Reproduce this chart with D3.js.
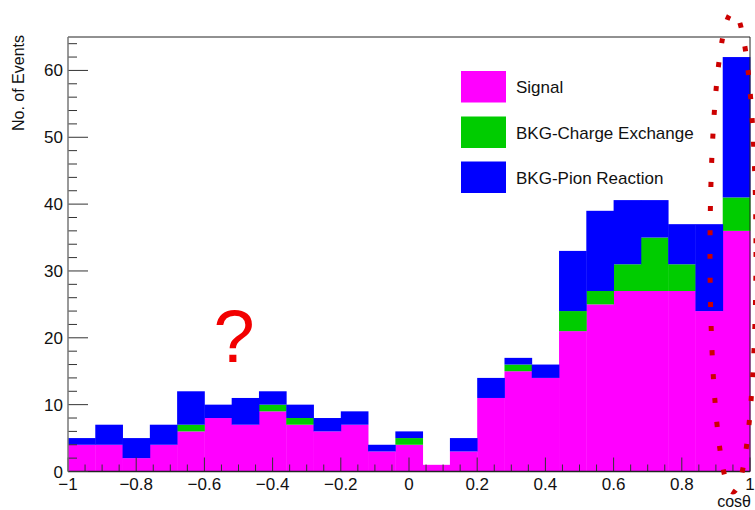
<!DOCTYPE html>
<html>
<head>
<meta charset="utf-8">
<script src="https://cdn.jsdelivr.net/npm/d3@7"></script>
<style>
  html, body { margin: 0; padding: 0; background: #fff; }
  svg { display: block; }
  text { font-family: "Liberation Sans", Arial, Helvetica, sans-serif; }
</style>
</head>
<body>
<svg id="chart" width="755" height="510"></svg>
<script>
// Histogram bins in cos(theta): 25 bins of width 0.08 between -1 and 1
const binEdges = [-1.00, -0.92, -0.84, -0.76, -0.68, -0.60, -0.52, -0.44, -0.36, -0.28,
                  -0.20, -0.12, -0.04, 0.04, 0.12, 0.20, 0.28, 0.36, 0.44, 0.52,
                  0.60, 0.68, 0.76, 0.84, 0.92, 1.00];

// Event counts per bin for each stacked component (bottom to top)
const signal   = [4, 4, 2, 4, 6, 8, 7, 9, 7, 6, 7, 3, 4, 1, 3, 11, 15, 14, 21, 25, 27, 27, 27, 24, 36];
const chargeEx = [0, 0, 0, 0, 1, 0, 0, 1, 1, 0, 0, 0, 1, 0, 0, 0, 1, 0, 3, 2, 4, 8, 4, 0, 5];
const pionReac = [1, 3, 3, 3, 5, 2, 4, 2, 2, 2, 2, 1, 1, 0, 2, 3, 1, 2, 9, 12, 9.6, 5.6, 6, 13, 21];

const seriesNames  = ["Signal", "BKG-Charge Exchange", "BKG-Pion Reaction"];
const seriesColors = ["#ff00ff", "#00cc00", "#0000ff"];

const xTickValues = [-1, -0.8, -0.6, -0.4, -0.2, 0, 0.2, 0.4, 0.6, 0.8, 1];
const yTickValues = [0, 10, 20, 30, 40, 50, 60];

const svg = d3.select("#chart");
const W = 755, H = 510;
const frame = { left: 68, right: 750, top: 37, bottom: 471.5 };

const x = d3.scaleLinear().domain([-1, 1]).range([frame.left, frame.right]);
const y = d3.scaleLinear().domain([0, 65]).range([frame.bottom, frame.top]);

// Build rows for d3.stack
const keys = ["signal", "chargeEx", "pionReac"];
const rows = signal.map((s, i) => ({
  lo: binEdges[i], hi: binEdges[i + 1],
  signal: s, chargeEx: chargeEx[i], pionReac: pionReac[i]
}));
const stacked = d3.stack().keys(keys)(rows);

// Stacked bars
const layers = svg.append("g").attr("class", "layers");
stacked.forEach((layer, k) => {
  layers.append("g")
    .attr("fill", seriesColors[k])
    .selectAll("rect")
    .data(layer.filter(d => d[1] > d[0]))
    .join("rect")
    .attr("x", d => x(d.data.lo))
    .attr("width", d => x(d.data.hi) - x(d.data.lo) + 0.4)
    .attr("y", d => y(d[1]))
    .attr("height", d => y(d[0]) - y(d[1]));
});

// Frame (top and right edges)
svg.append("path")
  .attr("d", `M${frame.left},${frame.top}H${frame.right}V${frame.bottom}`)
  .attr("fill", "none").attr("stroke", "#222").attr("stroke-width", 1);

// X axis: ticks pointing inward (up)
const xAxisG = svg.append("g");
const xMinor = d3.range(-1, 1.0001, 0.05);
xAxisG.selectAll("line.minor").data(xMinor).join("line")
  .attr("x1", d => x(d)).attr("x2", d => x(d))
  .attr("y1", frame.bottom).attr("y2", d => {
    const isMajor = Math.abs(Math.round(d * 5) - d * 5) < 1e-6;
    return frame.bottom - (isMajor ? 14 : 7);
  })
  .attr("stroke", "#333").attr("stroke-width", 1);
xAxisG.append("line")
  .attr("x1", frame.left).attr("x2", frame.right)
  .attr("y1", frame.bottom).attr("y2", frame.bottom)
  .attr("stroke", "#222").attr("stroke-width", 1.5);
const fmt = v => (v < 0 ? "\u2212" : "") + String(Math.abs(v));
xAxisG.selectAll("text").data(xTickValues).join("text")
  .attr("x", d => x(d)).attr("y", 490)
  .attr("text-anchor", "middle")
  .attr("font-size", 17).attr("fill", "#111")
  .text(fmt);

// Y axis: ticks pointing inward (right)
const yAxisG = svg.append("g");
const yMinor = d3.range(0, 65, 2);
yAxisG.selectAll("line.tick").data(yMinor).join("line")
  .attr("y1", d => y(d)).attr("y2", d => y(d))
  .attr("x1", frame.left).attr("x2", d => frame.left + (d % 10 === 0 ? 20 : 9))
  .attr("stroke", "#333").attr("stroke-width", 1);
yAxisG.append("line")
  .attr("x1", frame.left).attr("x2", frame.left)
  .attr("y1", frame.top).attr("y2", frame.bottom)
  .attr("stroke", "#777").attr("stroke-width", 1.5);
yAxisG.selectAll("text").data(yTickValues).join("text")
  .attr("x", 63).attr("y", d => y(d) + 6)
  .attr("text-anchor", "end")
  .attr("font-size", 17).attr("fill", "#111")
  .text(d => d);

// Axis titles
svg.append("text")
  .attr("transform", "translate(24,35) rotate(-90)")
  .attr("text-anchor", "end")
  .attr("font-size", 16).attr("fill", "#111")
  .text("No. of Events");
svg.append("text")
  .attr("x", 751).attr("y", 507)
  .attr("text-anchor", "end")
  .attr("font-size", 16).attr("fill", "#111")
  .text("cosθ");

// Legend
const legend = svg.append("g");
const legendRows = [
  { name: seriesNames[0], color: seriesColors[0], top: 71 },
  { name: seriesNames[1], color: seriesColors[1], top: 116.5 },
  { name: seriesNames[2], color: seriesColors[2], top: 161.5 }
];
legend.selectAll("rect").data(legendRows).join("rect")
  .attr("x", 461).attr("y", d => d.top)
  .attr("width", 45).attr("height", 31.5)
  .attr("fill", d => d.color);
legend.selectAll("text").data(legendRows).join("text")
  .attr("x", 516).attr("y", d => d.top + 22)
  .attr("font-size", 17).attr("fill", "#111")
  .text(d => d.name);

// Annotations: question mark over the backward region, dotted ring around the last bin
svg.append("text")
  .attr("x", 234).attr("y", 362)
  .attr("text-anchor", "middle")
  .attr("font-size", 74).attr("fill", "#f20000")
  .text("?");
svg.append("ellipse")
  .attr("cx", 733).attr("cy", 252).attr("rx", 23).attr("ry", 240)
  .attr("fill", "none")
  .attr("stroke", "#cc0000").attr("stroke-width", 5)
  .attr("stroke-dasharray", "5 19");
</script>
</body>
</html>
